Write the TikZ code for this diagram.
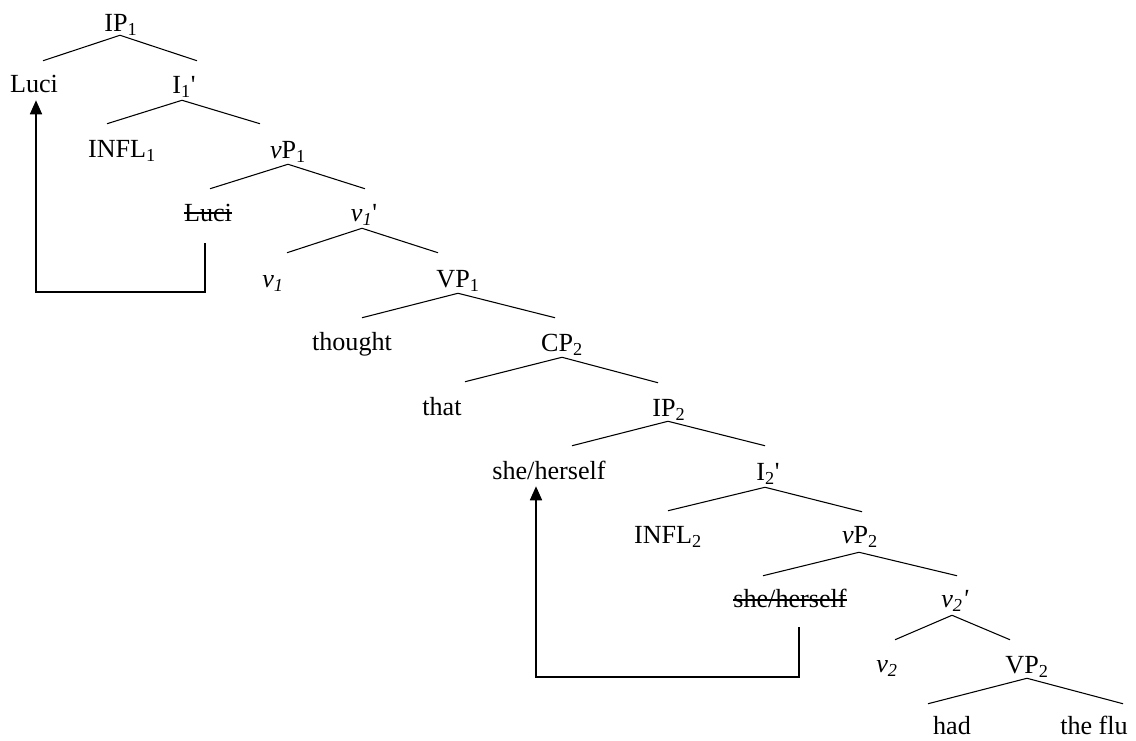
\documentclass[tikz,border=0pt]{standalone}
\usepackage{fontspec}
\setmainfont{Liberation Serif}
\usetikzlibrary{arrows.meta}
\begin{document}
\begin{tikzpicture}[x=0.75pt,y=-0.75pt,
  lab/.style={inner sep=0pt, anchor=base, text height=24.75pt, text depth=4.5pt,
              font=\fontsize{19.6}{24}\selectfont},
  leaf/.style={lab, text depth=0pt},
  branch/.style={line width=0.8pt},
  strikeline/.style={line width=1pt},
  movearrow/.style={line width=1.3pt, -{Triangle[length=10.5pt,width=9pt]}}]
\useasboundingbox (0,0) rectangle (1136,740);

% labels of the tree
\node[lab] (ip1)    at (121,31)  {IP\textsubscript{1}};
\node[lab] (luci)   at (34,92)   {Luci};
\node[lab] (i1)     at (184,93)  {I\textsubscript{1}\textquotesingle};
\node[lab] (infl1)  at (122,157) {INFL\textsubscript{1}};
\node[lab] (vp1)    at (288,158) {\textit{v}P\textsubscript{1}};
\node[lab] (lucit)  at (208,221) {Luci};
\node[lab] (v1bar)  at (364,221) {\textit{v\textsubscript{1}}\textquotesingle};
\node[lab] (v1)     at (273,287) {\textit{v\textsubscript{1}}};
\node[lab] (vp1big) at (458,287) {VP\textsubscript{1}};
\node[lab] (thought) at (352,350) {thought};
\node[lab] (cp2)    at (562,351) {CP\textsubscript{2}};
\node[lab] (that)   at (442,415) {that};
\node[lab] (ip2)    at (669,416) {IP\textsubscript{2}};
\node[lab] (she)    at (549,479) {she/herself};
\node[lab] (i2)     at (768,480) {I\textsubscript{2}\textquotesingle};
\node[lab] (infl2)  at (668,543) {INFL\textsubscript{2}};
\node[lab] (vp2)    at (860,543) {\textit{v}P\textsubscript{2}};
\node[lab] (shet)   at (790,607) {she/herself};
\node[lab] (v2bar)  at (955,607) {\textit{v\textsubscript{2}\textquotesingle}};
\node[lab] (v2)     at (887,672) {\textit{v\textsubscript{2}}};
\node[lab] (vp2big) at (1027,673) {VP\textsubscript{2}};
\node[leaf] (had)   at (952,734) {had};
\node[leaf] (flu)   at (1094,734) {the flu};

% struck-out copies
\draw[strikeline] ([shift={(0,-8)}]lucit.base west) -- ([shift={(0,-8)}]lucit.base east);
\draw[strikeline] ([shift={(0,-7)}]shet.base west) -- ([shift={(0,-7)}]shet.base east);

% branches
\draw[branch] ([shift={(-1,-2)}]ip1.south) -- ([shift={(9,2)}]luci.north);
\draw[branch] ([shift={(-1,-2)}]ip1.south) -- ([shift={(13,1)}]i1.north);
\draw[branch] ([shift={(-2,1)}]i1.south) -- ([shift={(-15,0)}]infl1.north);
\draw[branch] ([shift={(-2,1)}]i1.south) -- ([shift={(-28,-1)}]vp1.north);
\draw[branch] (vp1.south) -- ([shift={(2,1)}]lucit.north);
\draw[branch] (vp1.south) -- ([shift={(1,1)}]v1bar.north);
\draw[branch] ([shift={(-2,1)}]v1bar.south) -- ([shift={(14,-1)}]v1.north);
\draw[branch] ([shift={(-2,1)}]v1bar.south) -- ([shift={(-20,-1)}]vp1big.north);
\draw[branch] (vp1big.south) -- ([shift={(10,1)}]thought.north);
\draw[branch] (vp1big.south) -- ([shift={(-7,0)}]cp2.north);
\draw[branch] (cp2.south) -- ([shift={(23,0)}]that.north);
\draw[branch] (cp2.south) -- ([shift={(-11,0)}]ip2.north);
\draw[branch] ([shift={(-1,-1)}]ip2.south) -- ([shift={(23,0)}]she.north);
\draw[branch] ([shift={(-1,-1)}]ip2.south) -- ([shift={(-3,-1)}]i2.north);
\draw[branch] ([shift={(-3,1)}]i2.south) -- ([shift={(0,1)}]infl2.north);
\draw[branch] ([shift={(-3,1)}]i2.south) -- ([shift={(2,2)}]vp2.north);
\draw[branch] ([shift={(-1,3)}]vp2.south) -- ([shift={(-27,2)}]shet.north);
\draw[branch] ([shift={(-1,3)}]vp2.south) -- ([shift={(2,2)}]v2bar.north);
\draw[branch] ([shift={(-3,2)}]v2bar.south) -- ([shift={(8,1)}]v2.north);
\draw[branch] ([shift={(-3,2)}]v2bar.south) -- ([shift={(-17,0)}]vp2big.north);
\draw[branch] ([shift={(0,-1)}]vp2big.south) -- ([shift={(-24,3)}]had.north);
\draw[branch] ([shift={(0,-1)}]vp2big.south) -- ([shift={(29,3)}]flu.north);

% movement arrows
\draw[movearrow] ([shift={(-3,16)}]lucit.south) -- ++(0,49) -| ([shift={(2,2)}]luci.south);
\draw[movearrow] ([shift={(9,14)}]shet.south) -- ++(0,50) -| ([shift={(-13,1)}]she.south);
\end{tikzpicture}
\end{document}
